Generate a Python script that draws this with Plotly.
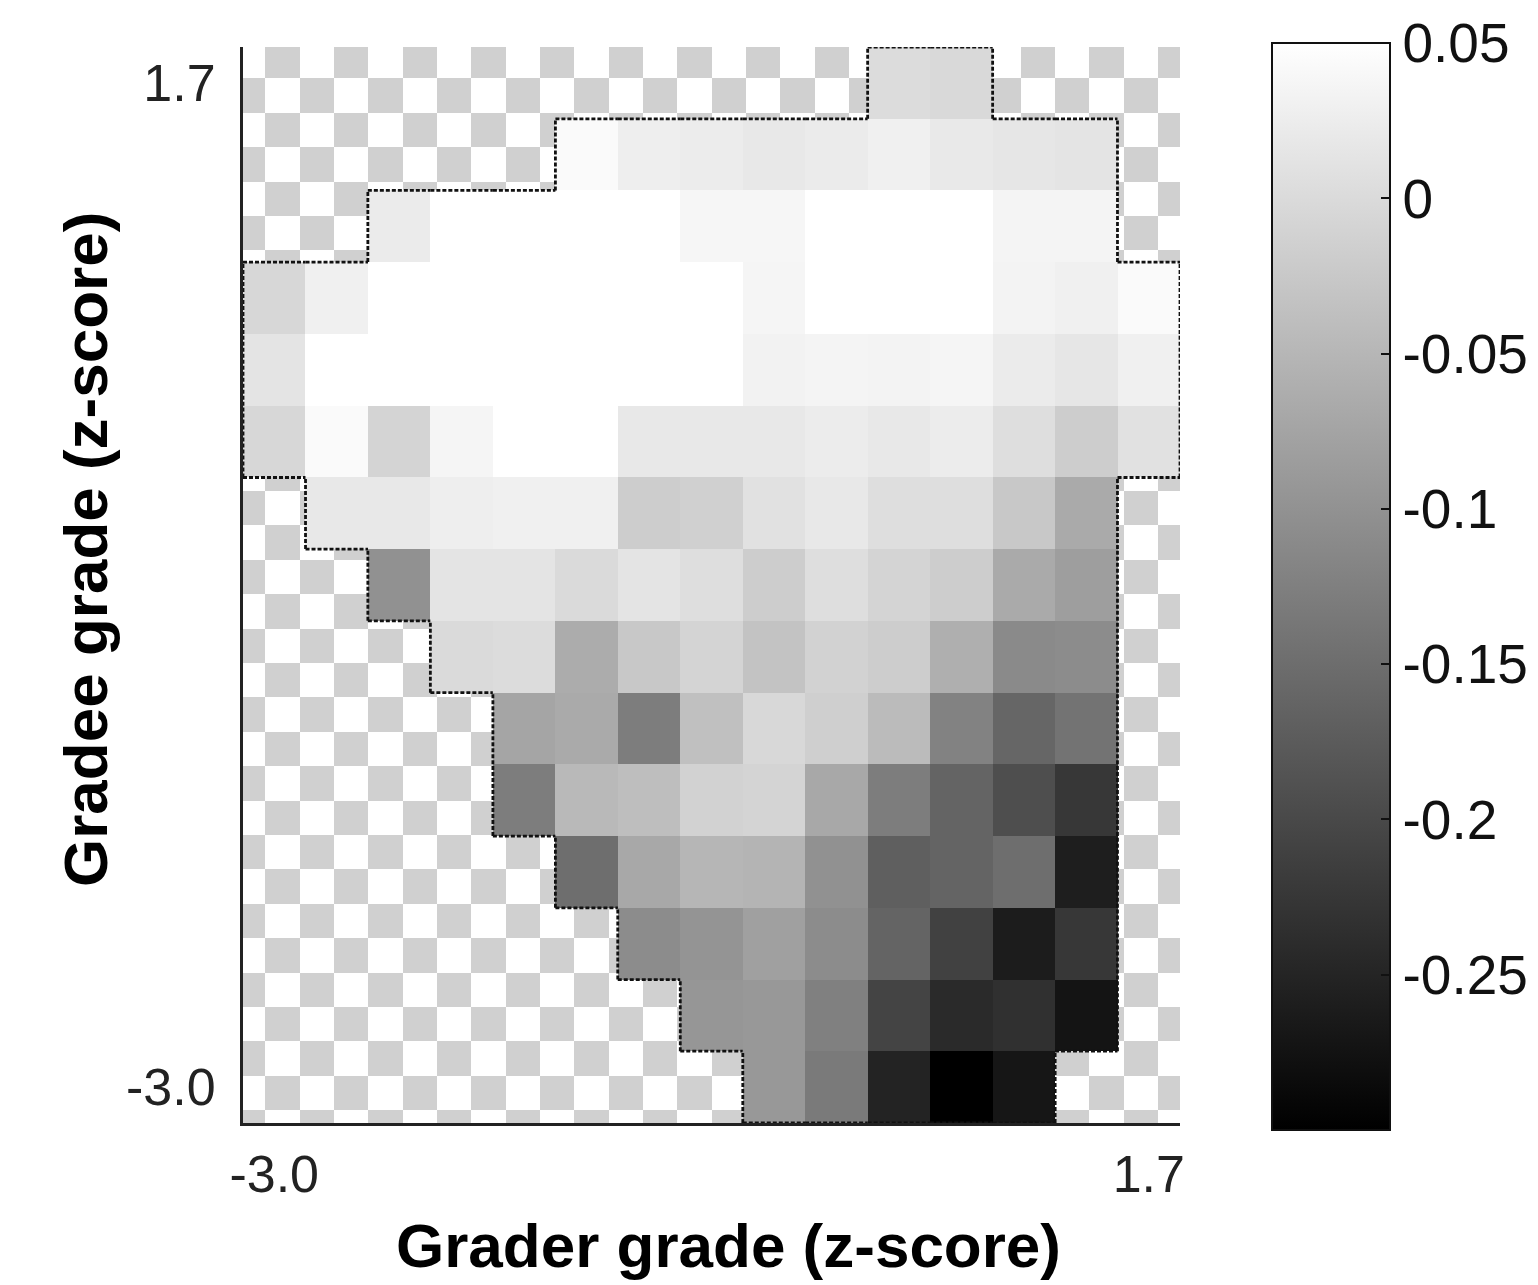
import numpy as np
import plotly.graph_objects as go

# ---------------- data ----------------
grader_bins = [-3.0, -2.664, -2.329, -1.993, -1.657, -1.321, -0.986, -0.650,
               -0.314, 0.021, 0.357, 0.693, 1.029, 1.364, 1.7]
# gradee bins listed from top row (1.7) to bottom row (-3.0)
gradee_bins = [1.7, 1.364, 1.029, 0.693, 0.357, 0.021, -0.314, -0.650,
               -0.986, -1.321, -1.657, -1.993, -2.329, -2.664, -3.0]

N = None
row_01 = [N, N, N, N, N, N, N, N, N, N, 0.002, -0.002, N, N, N]
row_02 = [N, N, N, N, N, 0.043, 0.027, 0.024, 0.018, 0.023, 0.029, 0.020, 0.016, 0.013, N]
row_03 = [N, N, 0.023, 0.05, 0.05, 0.05, 0.05, 0.038, 0.038, 0.05, 0.05, 0.05, 0.035, 0.035, N]
row_04 = [-0.005, 0.029, 0.05, 0.05, 0.05, 0.05, 0.05, 0.05, 0.036, 0.05, 0.05, 0.05, 0.034, 0.029, 0.043]
row_05 = [0.013, 0.05, 0.05, 0.05, 0.05, 0.05, 0.05, 0.05, 0.032, 0.035, 0.034, 0.036, 0.023, 0.016, 0.029]
row_06 = [-0.005, 0.043, -0.009, 0.036, 0.05, 0.05, 0.018, 0.018, 0.018, 0.024, 0.018, 0.024, 0.005, -0.019, 0.009]
row_07 = [N, 0.018, 0.018, 0.027, 0.029, 0.029, -0.019, -0.015, 0.009, 0.018, 0.005, 0.005, -0.025, -0.067, N]
row_08 = [N, N, -0.101, 0.013, 0.013, -0.001, 0.013, 0.005, -0.019, 0.005, -0.009, -0.019, -0.067, -0.083, N]
row_09 = [N, N, N, -0.001, 0.002, -0.064, -0.025, -0.009, -0.032, -0.012, -0.019, -0.060, -0.111, -0.108, N]
row_10 = [N, N, N, N, -0.074, -0.067, -0.128, -0.036, -0.004, -0.016, -0.043, -0.122, -0.160, -0.142, N]
row_11 = [N, N, N, N, -0.128, -0.046, -0.039, -0.012, -0.009, -0.069, -0.128, -0.163, -0.193, -0.225, N]
row_12 = [N, N, N, N, N, -0.149, -0.069, -0.050, -0.053, -0.101, -0.170, -0.163, -0.149, -0.259, N]
row_13 = [N, N, N, N, N, N, -0.108, -0.097, -0.080, -0.108, -0.163, -0.211, -0.262, -0.225, N]
row_14 = [N, N, N, N, N, N, N, -0.094, -0.091, -0.124, -0.207, -0.242, -0.234, -0.273, N]
row_15 = [N, N, N, N, N, N, N, N, -0.091, -0.133, -0.252, -0.300, -0.270, N, N]

rows_top_to_bottom = [row_01, row_02, row_03, row_04, row_05, row_06, row_07, row_08,
                      row_09, row_10, row_11, row_12, row_13, row_14, row_15]

x_tick_vals = [-3.0, 1.7]
x_tick_text = ["-3.0", "1.7"]
y_tick_vals = [-3.0, 1.7]
y_tick_text = ["-3.0", "1.7"]
cbar_tick_vals = [0.05, 0.0, -0.05, -0.1, -0.15, -0.2, -0.25]
cbar_tick_text = ["0.05", "0", "-0.05", "-0.1", "-0.15", "-0.2", "-0.25"]
zmin, zmax = -0.30, 0.05

# ---------------- geometry ----------------
nr, nc = len(gradee_bins), len(grader_bins)
step = (grader_bins[-1] - grader_bins[0]) / (nc - 1)
h = step / 2
x_range = [grader_bins[0] - h, grader_bins[-1] + h]
y_range = [gradee_bins[-1] - h, gradee_bins[0] + h]

W, H = 1538, 1285
ml, mr, mt, mb = 243, 358, 47, 162
pw, ph = W - ml - mr, H - mt - mb

# checkerboard background (decorative "no data" pattern)
sq_x = 34.34 * (x_range[1] - x_range[0]) / pw
sq_y = 34.39 * (y_range[1] - y_range[0]) / ph
x_first = x_range[0] + 22.3 * (x_range[1] - x_range[0]) / pw
y_first = y_range[1] - 31.4 * (y_range[1] - y_range[0]) / ph
cx = [x_range[0]] + list(np.arange(x_first, x_range[1] - 1e-6, sq_x)) + [x_range[1]]
cy_desc = [y_range[1]] + list(np.arange(y_first, y_range[0] + 1e-6, -sq_y)) + [y_range[0]]
ncx, ncy = len(cx) - 1, len(cy_desc) - 1
checker_desc = [[(i + j) % 2 for j in range(ncx)] for i in range(ncy)]
cy = cy_desc[::-1]
checker = checker_desc[::-1]

fig = go.Figure()
fig.add_trace(go.Heatmap(
    x=cx, y=cy, z=checker, zmin=0, zmax=1,
    colorscale=[[0, "#ffffff"], [1, "#d0d0d0"]],
    showscale=False, hoverinfo="skip"))

# data heatmap (y ascending)
z_asc = rows_top_to_bottom[::-1]
y_asc = gradee_bins[::-1]

cb_top_px = 43
cb_len_px = 1087
cb_left_px = 1272
cb_thick = 118
cb_x = (cb_left_px - ml) / pw
cb_y_top = (mt + ph - cb_top_px) / ph

fig.add_trace(go.Heatmap(
    x=grader_bins, y=y_asc, z=z_asc, zmin=zmin, zmax=zmax,
    colorscale=[[0, "#000000"], [1, "#ffffff"]],
    hoverongaps=False,
    colorbar=dict(
        x=cb_x, xanchor="left", y=cb_y_top, yanchor="top",
        len=cb_len_px, lenmode="pixels",
        thickness=cb_thick, thicknessmode="pixels",
        xpad=0, ypad=0,
        outlinewidth=2, outlinecolor="#111111",
        tickmode="array", tickvals=cbar_tick_vals, ticktext=cbar_tick_text,
        ticks="inside", ticklen=10, tickwidth=2, tickcolor="#111111",
        tickfont=dict(family="Liberation Sans, Arial", size=55, color="#111111"),
    )))

# dotted boundary around region with data
def valid(r, c):
    return 0 <= r < nr and 0 <= c < nc and rows_top_to_bottom[r][c] is not None

bx, by = [], []
for r in range(nr):
    for c in range(nc):
        if not valid(r, c):
            continue
        x0, x1 = grader_bins[c] - h, grader_bins[c] + h
        y0, y1 = gradee_bins[r] - h, gradee_bins[r] + h
        if not valid(r - 1, c):
            bx += [x0, x1, None]; by += [y1, y1, None]
        if not valid(r + 1, c):
            bx += [x0, x1, None]; by += [y0, y0, None]
        if not valid(r, c - 1):
            bx += [x0, x0, None]; by += [y0, y1, None]
        if not valid(r, c + 1):
            bx += [x1, x1, None]; by += [y0, y1, None]

fig.add_trace(go.Scatter(
    x=bx, y=by, mode="lines", hoverinfo="skip", showlegend=False,
    line=dict(color="#111111", width=2.8, dash="4px,2px"), cliponaxis=False))

# left-side ticks on colorbar
shapes = []
for v in cbar_tick_vals[1:]:
    yp = cb_y_top - (zmax - v) / (zmax - zmin) * (cb_len_px / ph)
    shapes.append(dict(type="line", xref="paper", yref="paper",
                       x0=cb_x, x1=cb_x + 10 / pw, y0=yp, y1=yp,
                       line=dict(color="#111111", width=2)))

title_font = dict(family="Liberation Sans, Arial", size=62, color="#000000")
annotations = [
    dict(text="<b>Grader grade (z-score)</b>", xref="paper", yref="paper",
         x=(728 - ml) / pw, y=(mt + ph - 1245) / ph, xanchor="center", yanchor="middle",
         showarrow=False, font=title_font),
    dict(text="<b>Gradee grade (z-score)</b>", xref="paper", yref="paper",
         x=(85 - ml) / pw, y=(mt + ph - 550) / ph, xanchor="center", yanchor="middle",
         textangle=-90, showarrow=False, font=title_font),
]

tick_font = dict(family="Liberation Sans, Arial", size=52, color="#222222")
fig.update_layout(
    width=W, height=H,
    margin=dict(l=ml, r=mr, t=mt, b=mb, autoexpand=False),
    paper_bgcolor="white", plot_bgcolor="white",
    showlegend=False,
    shapes=shapes, annotations=annotations,
    xaxis=dict(range=x_range, showgrid=False, zeroline=False,
               showline=True, linecolor="#222222", linewidth=3,
               tickmode="array", tickvals=x_tick_vals, ticktext=x_tick_text,
               ticks="", tickfont=tick_font, ticklabelstandoff=4),
    yaxis=dict(range=y_range, showgrid=False, zeroline=False,
               showline=True, linecolor="#222222", linewidth=3,
               tickmode="array", tickvals=y_tick_vals, ticktext=y_tick_text,
               ticks="", tickfont=tick_font, ticklabelstandoff=14),
)

fig.write_html("out.html")
